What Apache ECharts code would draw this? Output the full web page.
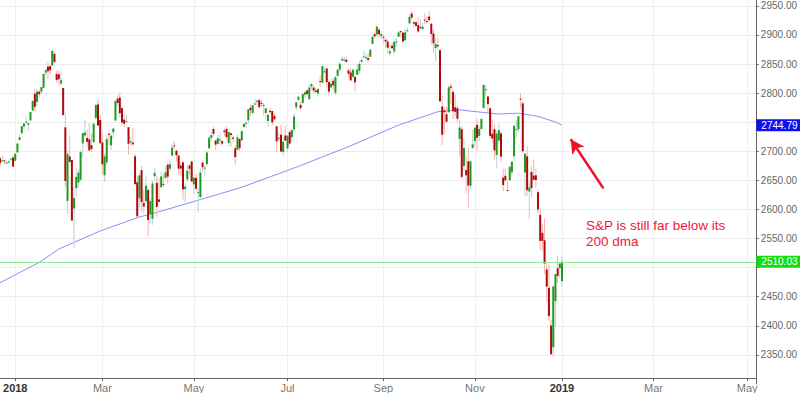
<!DOCTYPE html>
<html><head><meta charset="utf-8">
<script src="https://cdn.jsdelivr.net/npm/echarts@6/dist/echarts.min.js"></script>
<style>html,body{margin:0;padding:0;background:#fff}#c{width:800px;height:393px}</style>
</head><body><div id="c"></div>
<script>
// ---- trading days (Dec 2017 tail, all of 2018, first day of 2019) ----
var dates = [
 '2017-12-20','2017-12-21','2017-12-22','2017-12-26','2017-12-27','2017-12-28','2017-12-29',
 '2018-01-02','2018-01-03','2018-01-04','2018-01-05','2018-01-08','2018-01-09','2018-01-10','2018-01-11','2018-01-12','2018-01-16','2018-01-17','2018-01-18','2018-01-19','2018-01-22','2018-01-23','2018-01-24','2018-01-25','2018-01-26','2018-01-29','2018-01-30','2018-01-31',
 '2018-02-01','2018-02-02','2018-02-05','2018-02-06','2018-02-07','2018-02-08','2018-02-09','2018-02-12','2018-02-13','2018-02-14','2018-02-15','2018-02-16','2018-02-20','2018-02-21','2018-02-22','2018-02-23','2018-02-26','2018-02-27','2018-02-28',
 '2018-03-01','2018-03-02','2018-03-05','2018-03-06','2018-03-07','2018-03-08','2018-03-09','2018-03-12','2018-03-13','2018-03-14','2018-03-15','2018-03-16','2018-03-19','2018-03-20','2018-03-21','2018-03-22','2018-03-23','2018-03-26','2018-03-27','2018-03-28','2018-03-29',
 '2018-04-02','2018-04-03','2018-04-04','2018-04-05','2018-04-06','2018-04-09','2018-04-10','2018-04-11','2018-04-12','2018-04-13','2018-04-16','2018-04-17','2018-04-18','2018-04-19','2018-04-20','2018-04-23','2018-04-24','2018-04-25','2018-04-26','2018-04-27','2018-04-30',
 '2018-05-01','2018-05-02','2018-05-03','2018-05-04','2018-05-07','2018-05-08','2018-05-09','2018-05-10','2018-05-11','2018-05-14','2018-05-15','2018-05-16','2018-05-17','2018-05-18','2018-05-21','2018-05-22','2018-05-23','2018-05-24','2018-05-25','2018-05-29','2018-05-30','2018-05-31',
 '2018-06-01','2018-06-04','2018-06-05','2018-06-06','2018-06-07','2018-06-08','2018-06-11','2018-06-12','2018-06-13','2018-06-14','2018-06-15','2018-06-18','2018-06-19','2018-06-20','2018-06-21','2018-06-22','2018-06-25','2018-06-26','2018-06-27','2018-06-28','2018-06-29',
 '2018-07-02','2018-07-03','2018-07-05','2018-07-06','2018-07-09','2018-07-10','2018-07-11','2018-07-12','2018-07-13','2018-07-16','2018-07-17','2018-07-18','2018-07-19','2018-07-20','2018-07-23','2018-07-24','2018-07-25','2018-07-26','2018-07-27','2018-07-30','2018-07-31',
 '2018-08-01','2018-08-02','2018-08-03','2018-08-06','2018-08-07','2018-08-08','2018-08-09','2018-08-10','2018-08-13','2018-08-14','2018-08-15','2018-08-16','2018-08-17','2018-08-20','2018-08-21','2018-08-22','2018-08-23','2018-08-24','2018-08-27','2018-08-28','2018-08-29','2018-08-30','2018-08-31',
 '2018-09-04','2018-09-05','2018-09-06','2018-09-07','2018-09-10','2018-09-11','2018-09-12','2018-09-13','2018-09-14','2018-09-17','2018-09-18','2018-09-19','2018-09-20','2018-09-21','2018-09-24','2018-09-25','2018-09-26','2018-09-27','2018-09-28',
 '2018-10-01','2018-10-02','2018-10-03','2018-10-04','2018-10-05','2018-10-08','2018-10-09','2018-10-10','2018-10-11','2018-10-12','2018-10-15','2018-10-16','2018-10-17','2018-10-18','2018-10-19','2018-10-22','2018-10-23','2018-10-24','2018-10-25','2018-10-26','2018-10-29','2018-10-30','2018-10-31',
 '2018-11-01','2018-11-02','2018-11-05','2018-11-06','2018-11-07','2018-11-08','2018-11-09','2018-11-12','2018-11-13','2018-11-14','2018-11-15','2018-11-16','2018-11-19','2018-11-20','2018-11-21','2018-11-23','2018-11-26','2018-11-27','2018-11-28','2018-11-29','2018-11-30',
 '2018-12-03','2018-12-04','2018-12-06','2018-12-07','2018-12-10','2018-12-11','2018-12-12','2018-12-13','2018-12-14','2018-12-17','2018-12-18','2018-12-19','2018-12-20','2018-12-21','2018-12-24','2018-12-26','2018-12-27','2018-12-28','2018-12-31',
 '2019-01-02'
];
var open = [
 2688.18,2683.02,2684.22,2679.09,2682.10,2686.10,2689.15,
 2683.73,2697.85,2719.31,2731.33,2742.67,2751.15,2745.55,2752.97,2770.18,2798.96,2784.99,2802.40,2802.60,2809.16,2835.05,2845.42,2846.24,2847.48,2867.23,2832.74,2832.41,
 2816.45,2808.92,2741.06,2614.78,2690.95,2685.01,2601.78,2636.75,2646.27,2651.21,2713.46,2727.14,2722.99,2720.53,2710.42,2715.80,2757.37,2780.45,2753.78,
 2715.22,2658.89,2681.06,2730.18,2710.18,2732.75,2752.91,2790.54,2792.31,2774.06,2754.27,2750.57,2741.38,2715.05,2714.99,2691.36,2646.71,2619.35,2667.57,2611.30,2614.41,
 2633.45,2592.17,2584.04,2657.36,2645.82,2617.18,2638.41,2643.89,2653.83,2676.90,2670.10,2692.74,2710.11,2701.16,2692.56,2675.40,2680.80,2634.92,2651.65,2675.47,2682.51,
 2642.96,2654.24,2628.08,2621.45,2680.34,2670.26,2678.12,2705.02,2722.70,2738.47,2718.59,2712.62,2719.71,2717.35,2735.39,2738.34,2713.98,2730.94,2723.60,2705.11,2702.43,2720.98,
 2718.70,2741.67,2748.46,2753.25,2774.84,2765.84,2780.18,2785.60,2787.94,2783.21,2777.78,2765.79,2752.01,2769.73,2769.28,2760.79,2742.94,2722.12,2728.45,2698.69,2727.13,
 2704.95,2733.27,2724.19,2737.68,2775.62,2788.56,2779.82,2783.14,2796.93,2804.55,2789.34,2811.35,2809.37,2804.55,2799.17,2820.68,2817.73,2835.49,2842.35,2819.00,2809.73,
 2821.17,2800.48,2829.62,2840.29,2855.92,2856.79,2857.19,2838.90,2835.46,2827.88,2827.95,2831.44,2838.32,2853.93,2861.51,2860.99,2860.29,2862.35,2884.69,2901.45,2900.62,2908.94,2898.37,
 2896.96,2891.59,2888.64,2868.26,2881.39,2871.57,2888.29,2896.85,2906.38,2903.83,2890.74,2906.60,2919.73,2936.76,2921.83,2921.75,2916.98,2911.65,2910.03,
 2926.29,2923.80,2931.69,2919.35,2902.54,2877.53,2882.51,2873.90,2776.87,2770.54,2763.83,2767.05,2811.67,2802.00,2775.66,2773.94,2721.03,2737.87,2674.88,2667.86,2682.65,2640.68,2705.60,
 2717.58,2745.45,2726.37,2738.40,2774.13,2806.38,2794.10,2773.93,2730.05,2737.90,2693.52,2718.54,2730.74,2654.60,2657.74,2633.36,2649.97,2663.75,2691.45,2736.97,2737.76,
 2790.50,2782.43,2663.51,2691.26,2630.86,2664.44,2658.23,2658.70,2629.68,2590.75,2559.90,2547.05,2496.77,2465.38,2400.56,2363.12,2442.50,2498.77,2498.94,
 2476.96
];
var high = [
 2691.01,2692.64,2685.35,2682.74,2685.64,2687.66,2692.12,
 2695.89,2714.37,2729.29,2743.45,2748.51,2759.14,2750.80,2767.56,2787.85,2807.54,2807.04,2805.83,2810.33,2833.03,2842.24,2852.97,2848.56,2872.87,2870.62,2837.75,2839.26,
 2835.96,2808.92,2763.39,2701.04,2727.67,2685.27,2638.67,2672.61,2668.84,2702.10,2731.51,2754.42,2737.60,2747.75,2731.26,2747.76,2780.64,2789.15,2761.52,
 2730.89,2696.25,2728.09,2732.08,2730.60,2740.45,2786.57,2796.98,2801.90,2777.11,2763.03,2761.85,2741.38,2724.22,2739.14,2695.68,2657.67,2661.36,2674.78,2632.65,2659.07,
 2638.30,2619.14,2649.86,2672.08,2656.88,2653.55,2665.45,2661.43,2674.72,2680.26,2686.49,2713.34,2717.49,2702.84,2693.94,2682.86,2683.55,2645.30,2676.48,2677.35,2682.87,
 2655.27,2660.87,2637.14,2670.93,2683.35,2676.34,2701.27,2726.11,2732.86,2742.10,2718.59,2727.76,2731.96,2719.50,2739.19,2742.24,2733.33,2731.97,2727.36,2710.67,2729.34,2722.50,
 2736.93,2749.16,2752.61,2772.39,2779.90,2779.39,2790.21,2789.80,2791.47,2789.06,2782.81,2774.99,2765.05,2774.86,2769.28,2764.17,2742.94,2732.91,2746.09,2724.34,2743.26,
 2727.26,2736.58,2737.83,2764.41,2784.65,2795.58,2785.91,2799.22,2804.53,2806.53,2814.19,2816.76,2812.05,2809.70,2808.61,2829.99,2848.03,2845.57,2843.17,2821.74,2824.46,
 2825.83,2829.91,2840.38,2853.29,2863.43,2862.44,2862.48,2842.20,2843.40,2843.11,2827.95,2850.49,2855.63,2859.76,2873.23,2867.54,2868.78,2876.16,2898.25,2903.77,2916.50,2912.46,2906.32,
 2900.18,2894.21,2892.05,2883.81,2886.93,2892.52,2894.65,2906.76,2908.30,2904.65,2911.17,2912.36,2934.80,2940.91,2923.79,2923.95,2931.15,2927.22,2920.53,
 2937.06,2931.42,2939.86,2919.78,2909.64,2894.83,2894.83,2874.02,2795.14,2775.77,2775.99,2813.46,2816.94,2806.04,2797.77,2778.94,2753.59,2742.59,2722.70,2692.38,2706.85,2685.43,2736.69,
 2741.67,2756.55,2744.27,2756.82,2815.15,2814.75,2794.10,2775.99,2754.60,2746.80,2735.38,2746.75,2733.16,2669.44,2670.73,2647.55,2674.35,2682.53,2744.00,2753.75,2760.88,
 2800.18,2785.93,2696.15,2708.54,2647.51,2674.35,2685.44,2670.19,2635.07,2601.13,2573.99,2585.29,2509.63,2504.41,2410.34,2467.76,2489.10,2520.27,2509.24,
 2519.49
];
var low = [
 2676.11,2682.40,2678.13,2677.96,2678.91,2682.69,2673.61,
 2682.36,2697.77,2719.07,2727.92,2737.60,2747.86,2736.06,2752.78,2769.64,2768.64,2778.38,2792.56,2798.08,2808.12,2830.59,2824.81,2830.94,2846.18,2851.48,2818.27,2813.04,
 2812.70,2759.97,2638.17,2593.07,2681.33,2580.56,2532.69,2622.45,2637.08,2648.87,2689.82,2725.11,2706.76,2701.29,2697.77,2713.74,2753.78,2744.22,2713.54,
 2659.65,2647.32,2675.75,2711.26,2701.74,2722.65,2751.54,2779.26,2758.68,2744.38,2741.47,2749.97,2694.59,2710.05,2709.79,2641.59,2585.89,2601.81,2596.12,2593.06,2609.72,
 2553.80,2575.49,2573.61,2649.58,2586.27,2610.79,2635.78,2639.25,2653.83,2645.05,2665.16,2692.05,2703.63,2681.90,2660.61,2657.99,2617.32,2612.67,2647.16,2659.01,2648.04,
 2625.41,2631.70,2594.62,2615.32,2664.70,2655.20,2674.14,2704.54,2717.45,2725.47,2701.91,2712.17,2711.36,2709.18,2725.70,2721.88,2707.98,2707.38,2714.99,2676.81,2702.43,2700.68,
 2718.70,2740.54,2739.51,2748.46,2760.16,2763.59,2780.17,2778.78,2774.65,2776.52,2761.73,2757.12,2743.19,2763.91,2744.39,2752.68,2698.67,2715.60,2699.38,2691.99,2718.03,
 2698.95,2711.16,2716.02,2733.52,2770.73,2786.24,2770.77,2781.53,2791.69,2795.31,2789.24,2805.89,2799.77,2800.01,2795.14,2811.12,2817.73,2835.26,2808.34,2798.11,2808.06,
 2805.85,2796.34,2827.37,2835.98,2855.92,2853.09,2851.98,2825.81,2819.88,2826.58,2802.49,2831.44,2833.73,2850.62,2861.32,2856.05,2854.03,2862.35,2884.69,2893.50,2898.40,2895.22,2891.73,
 2885.13,2876.92,2867.29,2864.12,2875.94,2866.78,2879.20,2896.39,2895.77,2886.16,2890.43,2903.82,2919.73,2927.11,2912.63,2913.70,2903.28,2909.27,2907.50,
 2917.91,2919.37,2921.36,2883.92,2869.29,2855.04,2874.27,2784.86,2710.51,2729.44,2749.03,2766.91,2781.81,2755.18,2760.27,2749.22,2691.43,2651.89,2667.84,2628.16,2603.54,2635.34,2705.60,
 2708.85,2700.44,2717.94,2737.08,2774.13,2794.99,2764.24,2722.00,2714.98,2685.75,2670.75,2712.16,2681.09,2631.52,2649.82,2631.09,2649.97,2655.89,2684.38,2722.94,2732.76,
 2773.38,2697.18,2621.53,2623.14,2583.23,2621.30,2650.26,2637.27,2593.84,2530.54,2528.71,2488.96,2441.18,2408.55,2351.10,2346.58,2397.94,2472.89,2482.82,
 2467.47
];
var close = [
 2679.25,2684.57,2683.34,2680.50,2682.62,2687.54,2673.61,
 2695.81,2713.06,2723.99,2743.15,2747.71,2751.29,2748.23,2767.56,2786.24,2776.42,2802.56,2798.03,2810.30,2832.97,2839.13,2837.54,2839.25,2872.87,2853.53,2822.43,2823.81,
 2821.98,2762.13,2648.94,2695.14,2681.66,2581.00,2619.55,2656.00,2662.94,2698.63,2731.20,2732.22,2716.26,2701.33,2703.96,2747.30,2779.60,2744.28,2713.83,
 2677.67,2691.25,2720.94,2728.12,2726.80,2738.97,2786.57,2783.02,2765.31,2749.48,2747.33,2752.01,2712.92,2716.94,2711.93,2643.69,2588.26,2658.55,2612.62,2605.00,2640.87,
 2581.88,2614.45,2644.69,2662.84,2604.47,2613.16,2656.87,2642.19,2663.99,2656.30,2677.84,2706.39,2708.64,2693.13,2670.14,2670.29,2634.56,2639.40,2666.94,2669.91,2648.05,
 2654.80,2635.67,2629.73,2663.42,2672.63,2671.92,2697.79,2723.07,2727.72,2730.13,2711.45,2722.46,2720.13,2712.97,2733.01,2724.44,2733.29,2727.76,2721.33,2689.86,2724.01,2705.27,
 2734.62,2746.87,2748.80,2772.35,2770.37,2779.03,2782.00,2786.85,2775.63,2782.49,2779.66,2773.75,2762.59,2767.32,2749.76,2754.88,2717.07,2723.06,2699.63,2716.31,2718.37,
 2726.71,2713.22,2736.61,2759.82,2784.17,2793.84,2774.02,2798.29,2801.31,2798.43,2809.55,2815.62,2804.49,2801.83,2806.98,2820.40,2846.07,2837.44,2818.82,2802.60,2816.29,
 2813.36,2827.22,2840.35,2850.40,2858.45,2857.70,2853.58,2833.28,2821.93,2839.96,2818.37,2840.69,2850.13,2857.05,2862.96,2861.82,2856.98,2874.69,2896.74,2897.52,2914.04,2901.13,2901.52,
 2896.72,2888.60,2878.05,2871.68,2877.13,2887.89,2888.92,2904.18,2904.98,2888.80,2904.31,2907.95,2930.75,2929.67,2919.37,2915.56,2905.97,2914.00,2913.98,
 2924.59,2923.43,2925.51,2901.61,2885.57,2884.43,2880.34,2785.68,2728.37,2767.13,2750.79,2809.92,2809.21,2768.78,2767.78,2755.88,2740.69,2656.10,2705.57,2658.69,2641.25,2682.63,2711.74,
 2740.37,2723.06,2738.31,2755.45,2813.89,2806.83,2781.01,2726.22,2722.18,2701.58,2730.20,2736.27,2690.73,2641.89,2649.93,2632.56,2673.45,2682.17,2743.79,2737.80,2760.17,
 2790.37,2700.06,2695.95,2633.08,2637.72,2636.78,2651.07,2650.54,2599.95,2545.94,2546.16,2506.96,2467.42,2416.62,2351.10,2467.70,2488.83,2485.74,2506.85,
 2510.03
];
// ---- 200-day moving average ----
var maDates  = ['2017-12-20','2018-01-18','2018-01-31','2018-02-28','2018-03-26','2018-04-09','2018-05-04','2018-05-31','2018-06-20','2018-07-10','2018-08-10','2018-09-13','2018-10-09','2018-10-23','2018-11-16','2018-11-30','2018-12-14','2018-12-28','2019-01-02'];
var maValues = [2474,2509,2532,2563,2587,2596,2617,2637,2656,2674,2708,2745,2768,2771,2764,2765.5,2760,2749,2744.79];
// ---- axis ticks / annotation ----
var tickDates  = ['2018-01-02','2018-03-01','2018-05-01','2018-07-02','2018-09-04','2018-11-01','2019-01-02','2019-03-01','2019-05-01'];
var tickLabels = ['2018','Mar','May','Jul','Sep','Nov','2019','Mar','May'];
var lastPrice = 2510.03;
var lastMA = 2744.79;
var arrowTail = ['2019-01-29', 2636.3];
var arrowHead = ['2019-01-08', 2720.7];
var noteText = 'S&P is still far below its\n200 dma';

// category axis: trading days, then weekdays into 2019
var categories = dates.slice();
(function(){
  var d = new Date(Date.UTC(2019,0,3)), end = Date.UTC(2019,4,7);
  while (d.getTime() <= end) {
    var wd = d.getUTCDay();
    if (wd > 0 && wd < 6) categories.push(d.toISOString().slice(0,10));
    d.setUTCDate(d.getUTCDate() + 1);
  }
})();
var tickMap = {};
tickDates.forEach(function(d,i){ tickMap[d] = tickLabels[i]; });
function isTick(i, v){ return tickMap.hasOwnProperty(v); }
function idx(d){ return categories.indexOf(d); }

var candleData = dates.map(function(d,i){ return [idx(d), open[i], high[i], low[i], close[i]]; });
var maData = maDates.map(function(d,i){ return [idx(d), maValues[i]]; });

var FONT = '"Liberation Sans", Arial, Helvetica, sans-serif';
var chart = echarts.init(document.getElementById('c'), null, {renderer:'svg'});
chart.setOption({
  animation: false,
  backgroundColor: '#ffffff',
  textStyle: {fontFamily: FONT},
  grid: {left: 0, right: 42.7, top: 0, height: 384, containLabel: false},
  xAxis: {
    type: 'category', data: categories, boundaryGap: false, offset: -6,
    axisLine: {lineStyle: {color: '#666', width: 1}},
    axisTick: {show: true, interval: isTick, length: 3, lineStyle: {color: '#666'}},
    axisLabel: {
      interval: isTick, margin: 4, hideOverlap: false,
      formatter: function(v){ var l = tickMap[v]; return /^\d{4}$/.test(l) ? '{y|' + l + '}' : '{m|' + l + '}'; },
      rich: {
        y: {fontWeight: 'bold', color: '#333', fontSize: 11, fontFamily: FONT},
        m: {color: '#777', fontSize: 11, fontFamily: FONT}
      }
    },
    splitLine: {show: true, interval: isTick, lineStyle: {color: '#f0f0f0', width: 1}}
  },
  yAxis: {
    type: 'value', position: 'right', min: 2300, max: 2960, interval: 50,
    axisLine: {show: true, lineStyle: {color: '#666', width: 1}},
    axisTick: {show: true, length: 3, lineStyle: {color: '#666'}},
    axisLabel: {
      // labels sitting under the price tags are covered in the reference
      formatter: function(v){
        if (Math.abs(v - lastPrice) < 15 || Math.abs(v - lastMA) < 15) return '';
        return v.toFixed(2);
      },
      color: '#666', fontSize: 10, margin: 5,
      showMinLabel: false, showMaxLabel: false, fontFamily: FONT},
    splitLine: {show: true, showMinLine: false, showMaxLine: false, lineStyle: {color: '#ececec', width: 1}}
  },
  series: [
    {
      type: 'line', name: '200 dma', data: maData, symbol: 'none', z: 2,
      lineStyle: {color: '#8c8cff', width: 1},
      markLine: {
        silent: true, symbol: ['none','none'], animation: false,
        label: {show: false},
        data: [
          {yAxis: lastPrice, lineStyle: {color: '#8ee88e', width: 1, type: 'solid'},
           label: {show: true, position: 'end', distance: 0.5, formatter: lastPrice.toFixed(2),
                   backgroundColor: '#11dd11', color: '#fff', fontSize: 10, lineHeight: 11, padding: [1,4,0,5], fontFamily: FONT}},
          {yAxis: lastMA, lineStyle: {color: 'rgba(0,0,0,0)', width: 0, type: 'solid'},
           label: {show: true, position: 'end', distance: 0.5, formatter: lastMA.toFixed(2),
                   backgroundColor: '#1010ee', color: '#fff', fontSize: 10, lineHeight: 11, padding: [1,4,0,5], fontFamily: FONT}},
          [
            {coord: [idx(arrowTail[0]), arrowTail[1]], symbol: 'none', lineStyle: {color: '#f0102c', width: 2.5, type: 'solid'}, label: {show: false}},
            {coord: [idx(arrowHead[0]), arrowHead[1]], symbol: 'arrow', symbolSize: [11, 14], lineStyle: {color: '#f0102c', width: 2.5, type: 'solid'}, label: {show: false}}
          ]
        ]
      }
    },
    {
      type: 'custom', name: 'S&P 500', z: 3,
      data: candleData,
      encode: {x: 0, y: [1,2,3,4]},
      renderItem: function(params, api){
        var x = api.value(0), o = api.value(1), h = api.value(2), l = api.value(3), c = api.value(4);
        var pO = api.coord([x, o]), pC = api.coord([x, c]), pH = api.coord([x, h]), pL = api.coord([x, l]);
        var up = c >= o;
        var w = 2;
        var top = Math.min(pO[1], pC[1]), bot = Math.max(pO[1], pC[1]);
        return {type: 'group', children: [
          {type: 'line', shape: {x1: pH[0], y1: pH[1], x2: pL[0], y2: pL[1]},
           style: {stroke: up ? '#b7d3da' : '#f5b3b3', lineWidth: 1}},
          {type: 'rect', shape: {x: pO[0] - w/2, y: top, width: w, height: Math.max(bot - top, 1)},
           style: {fill: up ? '#1f9a1f' : '#ad0a0a'}}
        ]};
      }
    }
  ],
  graphic: [
    {type: 'text', left: 586, top: 217, z: 10,
     style: {text: noteText, fill: '#f2183c', font: '13.5px ' + FONT, lineHeight: 16}}
  ]
});
</script>
</body></html>
